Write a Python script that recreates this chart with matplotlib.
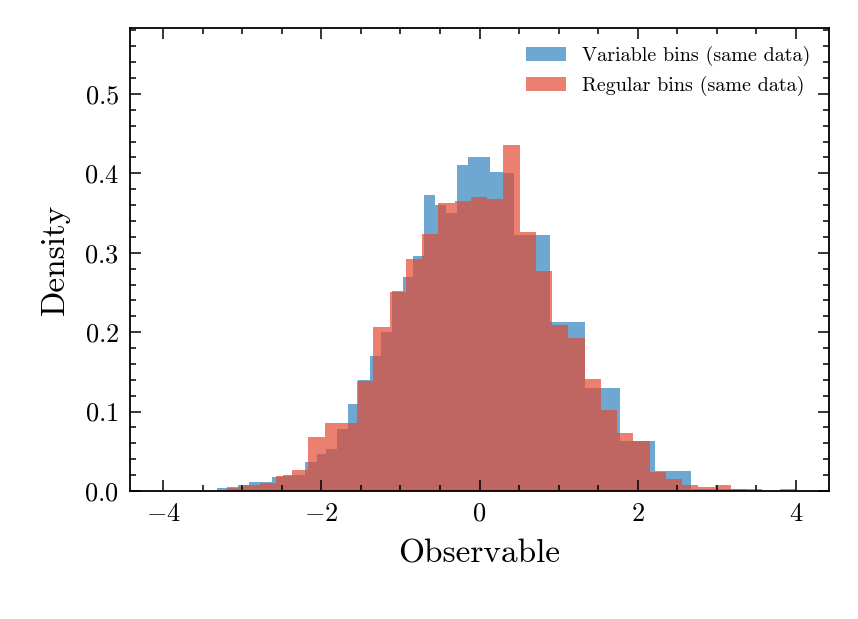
import matplotlib
matplotlib.use('Agg')
import matplotlib.pyplot as plt
import numpy as np

plt.rcParams['font.family'] = 'serif'
plt.rcParams['font.serif'] = ['cmr10', 'DejaVu Serif']
plt.rcParams['mathtext.fontset'] = 'cm'
plt.rcParams['axes.formatter.use_mathtext'] = True
plt.rcParams['axes.linewidth'] = 1.3

# variable-width bins
var_edges = [-3.32, -3.05, -2.91, -2.63, -2.49, -2.21, -2.06, -1.94, -1.80, -1.66,
             -1.54, -1.38, -1.25, -1.11, -0.97, -0.835, -0.70, -0.56, -0.42, -0.28,
             -0.14, 0.127, 0.30, 0.44, 0.89, 1.34, 1.78, 2.22, 2.67, 3.57]
var_heights = [0.004, 0.008, 0.011, 0.017, 0.02, 0.037, 0.046, 0.053, 0.078, 0.11,
               0.14, 0.17, 0.20, 0.252, 0.27, 0.296, 0.373, 0.36, 0.35, 0.41,
               0.42, 0.402, 0.40, 0.322, 0.213, 0.13, 0.063, 0.025, 0.002]

# regular bins
reg_edges = list(np.linspace(-3.19, 4.0, 36))
reg_heights = [0.005, 0.008, 0.010, 0.019, 0.026, 0.068, 0.086, 0.086, 0.139, 0.206,
               0.25, 0.292, 0.324, 0.363, 0.365, 0.37, 0.368, 0.436, 0.326, 0.277,
               0.209, 0.193, 0.141, 0.102, 0.073, 0.063, 0.024, 0.015, 0.008, 0.005,
               0.008, 0.002, 0.0, 0.0, 0.002]


def make_hist():
    fig, ax = plt.subplots(1, 1, figsize=(8.58, 6.19), dpi=100)
    fig.subplots_adjust(left=130/858, right=829/858, top=1-28/619, bottom=1-491/619)
    ax.hist(var_edges[:-1], bins=var_edges, weights=var_heights, color='#3182bd',
            alpha=0.7, label='Variable bins (same data)')
    ax.hist(reg_edges[:-1], bins=reg_edges, weights=reg_heights, color='#e34a33',
            alpha=0.7, label='Regular bins (same data)')
    ax.set_xlim([-4.42, 4.42])
    ax.set_ylim([0, 0.583])
    ax.set_xticks([-4, -2, 0, 2, 4])
    ax.set_xticks(np.arange(-4, 4.01, 0.5), minor=True)
    ax.set_yticks(np.arange(0, 0.51, 0.1))
    ax.set_yticks(np.arange(0, 0.581, 0.02), minor=True)
    ax.tick_params(which='both', direction='in', top=True, right=True, labelsize=19,
                   width=1.1, pad=8)
    ax.tick_params(which='major', length=8)
    ax.tick_params(which='minor', length=4)
    ax.set_xlabel("Observable", fontsize=24, labelpad=10)
    ax.set_ylabel("Density", fontsize=24, labelpad=10)
    ax.legend(frameon=False, fontsize=14.5)
    fig.savefig('out.png')


if __name__ == "__main__":
    make_hist()
